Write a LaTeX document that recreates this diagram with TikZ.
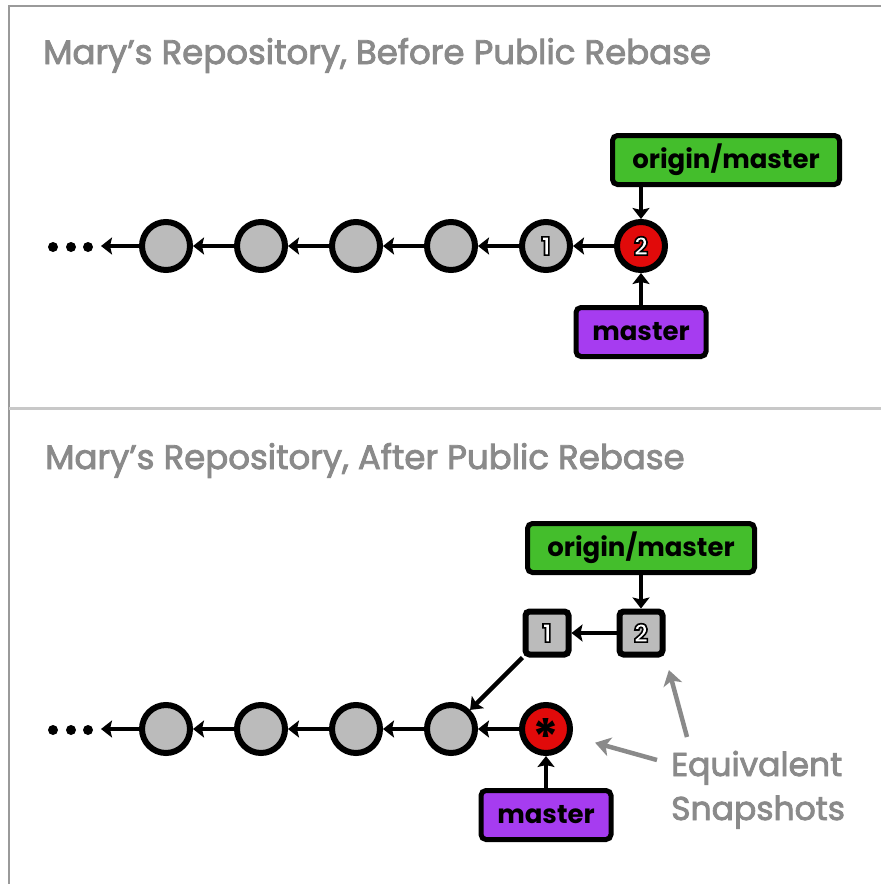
\documentclass[tikz,border=0pt]{standalone}
\usepackage{fontspec}
\setmainfont{Poppins}
\usetikzlibrary{positioning,arrows.meta}
\definecolor{commitGray}{HTML}{BBBBBB}
\definecolor{headRed}{HTML}{E10A0A}
\definecolor{remoteGreen}{HTML}{44BE2C}
\definecolor{branchPurple}{HTML}{A63CF0}
\definecolor{noteGray}{HTML}{8A8A8A}
\definecolor{frameGray}{HTML}{9A9A9A}
\definecolor{ruleGray}{HTML}{C8C8C8}
\newcommand{\snapnum}[1]{\textcolor{white}{\special{pdf:literal direct 0 G 1.6 w 2 Tr}#1\special{pdf:literal direct 0 Tr}}}

\begin{document}
\begin{tikzpicture}[x=1pt, y=-1pt, >=Stealth, node distance=41pt,
      commit/.style={circle, draw, line width=6pt, fill=commitGray, minimum size=48pt, inner sep=0pt, font=\bfseries\fontsize{25}{25}\selectfont},
      head/.style={commit, fill=headRed},
      snap/.style={rectangle, rounded corners=4pt, draw, line width=6pt, fill=commitGray, minimum size=43pt, inner sep=0pt, font=\bfseries\fontsize{25}{25}\selectfont},
      ref/.style={draw, line width=5pt, rounded corners=5pt, minimum height=49pt, inner sep=0pt, font=\bfseries\fontsize{26}{26}\selectfont},
      remote/.style={ref, fill=remoteGreen, minimum width=227pt},
      branch/.style={ref, fill=branchPurple, minimum width=130pt},
      link/.style={-{Stealth[length=11pt,width=17pt,inset=2pt]}, line width=4.5pt},
      note/.style={-{Stealth[length=15pt,width=19pt,inset=4pt]}, line width=4.5pt, noteGray},
      title/.style={anchor=base west, text=noteGray, inner sep=0pt, font=\fontsize{34}{44}\selectfont\addfontfeature{FakeBold=2.5}}]
    \useasboundingbox (0,0) rectangle (881,884);
    \draw[frameGray, line width=2.5pt] (9,884) -- (9,6) -- (881,6);
    \draw[ruleGray, line width=3pt] (9,408) -- (881,408);

    \node[title] (before) at (43,64) {Mary’s Repository, Before Public Rebase};
    \node[commit] (t1) at (166,246) {};
    \node[commit, right=of t1] (t2) {};
    \node[commit, right=of t2] (t3) {};
    \node[commit, right=of t3] (t4) {};
    \node[commit, right=of t4] (t5) {\snapnum{1}};
    \node[head, right=of t5] (t6) {\snapnum{2}};
    \coordinate (tend) at (101,246);
    \foreach \x in {53,71,88} \fill (\x,247) circle (5pt);
    \node[remote] (om1) at (726,160) {origin/master};
    \node[branch, below=32pt of t6] (m1) {master};
    \draw[link] (t1) -- (tend);
    \foreach \a/\b in {t2/t1,t3/t2,t4/t3,t5/t4,t6/t5} {
      \draw[link] (\a) -- (\b);
    }
    \draw[link] (om1.south -| t6) -- (t6);
    \draw[link] (m1) -- (t6);

    \node[title] (after) at (45,469) {Mary’s Repository, After Public Rebase};
    \node[commit] (b1) at (166,729) {};
    \node[commit, right=of b1] (b2) {};
    \node[commit, right=of b2] (b3) {};
    \node[commit, right=of b3] (b4) {};
    \node[head, right=of b4, font=\bfseries\fontsize{50}{50}\selectfont] (b5) {\raisebox{-0.52em}[0pt][0pt]{*}};
    \node[snap] (s1) at (547,633) {\snapnum{1}};
    \node[snap] (s2) at (641,633) {\snapnum{2}};
    \coordinate (bend) at (101,729);
    \foreach \x in {53,71,88} \fill (\x,730) circle (5pt);
    \node[remote] (om2) at (641,548) {origin/master};
    \node[branch, below=32pt of b5] (m2) {master};
    \draw[link] (b1) -- (bend);
    \foreach \a/\b in {b2/b1,b3/b2,b4/b3,b5/b4,s2/s1,s1/b4} {
      \draw[link] (\a) -- (\b);
    }
    \draw[link] (om2) -- (s2);
    \draw[link] (m2) -- (b5);

    \node[title, align=left, font=\fontsize{33}{44}\selectfont\addfontfeature{FakeBold=2.5}] (eq) at (671,820) {Equivalent\\Snapshots};
    \coordinate (eqa) at (657,760);
    \coordinate (eqb) at (687,737);
    \draw[note, shorten >=24pt] (eqa) -- (b5);
    \draw[note, shorten >=13pt] (eqb) -- (s2.south east);
  \end{tikzpicture}
\end{document}
